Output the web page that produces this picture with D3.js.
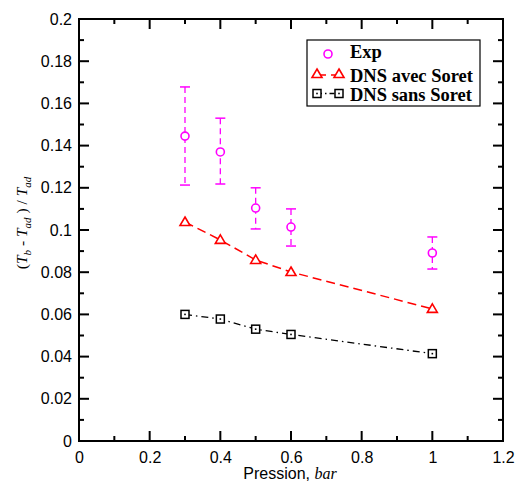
<!DOCTYPE html>
<html><head><meta charset="utf-8">
<script src="https://cdn.jsdelivr.net/npm/d3@7"></script>
<style>body{margin:0;background:#fff}</style>
</head><body>
<svg id="c" width="515" height="485"></svg>
<script>
const pressure = [0.3, 0.4, 0.5, 0.6, 1.0];
const expVal = [0.1445, 0.137, 0.1104, 0.1014, 0.0891];
const expHigh = [0.1678, 0.153, 0.120, 0.110, 0.0967];
const expLow = [0.1213, 0.1218, 0.1005, 0.0924, 0.0815];
const dnsAvec = [0.1038, 0.0953, 0.0858, 0.0801, 0.0626];
const dnsSans = [0.0600, 0.0578, 0.0530, 0.0505, 0.0414];
const xTicks = [0, 0.2, 0.4, 0.6, 0.8, 1, 1.2];
const xMinorTicks = [0.1, 0.3, 0.5, 0.7, 0.9, 1.1];
const yTicks = [0, 0.02, 0.04, 0.06, 0.08, 0.1, 0.12, 0.14, 0.16, 0.18, 0.2];
const yMinorTicks = [0.01, 0.03, 0.05, 0.07, 0.09, 0.11, 0.13, 0.15, 0.17, 0.19];
const legendLabels = ["Exp", "DNS avec Soret", "DNS sans Soret"];

const svg = d3.select("#c");
const L = 79, R = 503, T = 19, B = 441;
const x = d3.scaleLinear().domain([0, 1.2]).range([L, R]);
const y = d3.scaleLinear().domain([0, 0.2]).range([B, T]);
const fmt = v => v === 0 ? "0" : String(+v.toFixed(2));
const tickFont = "'Liberation Sans', Arial, sans-serif";
const serif = "'Liberation Serif', 'Times New Roman', serif";

// tick labels via d3 axes
const xa = svg.append("g").attr("transform", `translate(0,${B})`)
  .call(d3.axisBottom(x).tickValues(xTicks).tickFormat(fmt).tickSize(0).tickPadding(11));
xa.select(".domain").remove();
xa.selectAll("text").attr("font-family", tickFont).attr("font-size", 16).attr("fill", "#000");
const ya = svg.append("g").attr("transform", `translate(${L},0)`)
  .call(d3.axisLeft(y).tickValues(yTicks).tickFormat(fmt).tickSize(0).tickPadding(7));
ya.select(".domain").remove();
ya.selectAll("text").attr("font-family", tickFont).attr("font-size", 16).attr("fill", "#000");

// x label
const xl = svg.append("text").attr("x", 290).attr("y", 479).attr("text-anchor", "middle")
  .attr("font-family", tickFont).attr("font-size", 16);
xl.append("tspan").text("Pression, ");
xl.append("tspan").attr("font-family", serif).attr("font-style", "italic").text("bar");

// y label
const yl = svg.append("text").attr("transform", "translate(27,223) rotate(-90)").attr("text-anchor", "middle")
  .attr("font-family", serif).attr("font-size", 15.5);
yl.append("tspan").text("(");
yl.append("tspan").attr("font-style", "italic").text("T");
yl.append("tspan").attr("font-style", "italic").attr("font-size", 11).attr("dy", 4).text("b");
yl.append("tspan").attr("dy", -4).text(" - ");
yl.append("tspan").attr("font-style", "italic").text("T");
yl.append("tspan").attr("font-style", "italic").attr("font-size", 11).attr("dy", 4).text("ad");
yl.append("tspan").attr("dy", -4).text(" ) / ");
yl.append("tspan").attr("font-style", "italic").text("T");
yl.append("tspan").attr("font-style", "italic").attr("font-size", 11).attr("dy", 4).text("ad");

const MAG = "#ff00ff", RED = "#ff0000";

// lines
const line = d3.line().x((v, i) => x(pressure[i])).y(v => y(v));
svg.append("path").datum(dnsAvec).attr("d", line).attr("fill", "none").attr("stroke", RED)
  .attr("stroke-width", 1.5).attr("stroke-dasharray", "9,5");
svg.append("path").datum(dnsSans).attr("d", line).attr("fill", "none").attr("stroke", "#000")
  .attr("stroke-width", 1.3).attr("stroke-dasharray", "7,4,1.5,4");

// error bars
pressure.forEach((p, i) => {
  const cx = x(p);
  svg.append("line").attr("x1", cx).attr("x2", cx).attr("y1", y(expHigh[i])).attr("y2", y(expLow[i]))
    .attr("stroke", MAG).attr("stroke-width", 1.3).attr("stroke-dasharray", "6,4");
  [expHigh[i], expLow[i]].forEach(v => {
    svg.append("line").attr("x1", cx - 5).attr("x2", cx + 5).attr("y1", y(v)).attr("y2", y(v))
      .attr("stroke", MAG).attr("stroke-width", 1.5);
  });
});

function circle(gp, cx, cy) {
  gp.append("circle").attr("cx", cx).attr("cy", cy).attr("r", 4).attr("fill", "#fff").attr("stroke", MAG).attr("stroke-width", 1.6);
}
function tri(gp, cx, cy) {
  const s = 5;
  gp.append("path").attr("d", `M${cx},${cy - s}L${cx + s},${cy + s * 0.7}L${cx - s},${cy + s * 0.7}Z`)
    .attr("fill", "#fff").attr("stroke", RED).attr("stroke-width", 1.6);
}
function sq(gp, cx, cy) {
  gp.append("rect").attr("x", cx - 4).attr("y", cy - 4).attr("width", 8).attr("height", 8)
    .attr("fill", "#fff").attr("stroke", "#000").attr("stroke-width", 1.5);
  gp.append("rect").attr("x", cx - 0.8).attr("y", cy - 0.8).attr("width", 1.6).attr("height", 1.6).attr("fill", "#000");
}
pressure.forEach((p, i) => {
  circle(svg, x(p), y(expVal[i]));
  tri(svg, x(p), y(dnsAvec[i]));
  sq(svg, x(p), y(dnsSans[i]));
});

svg.append("rect").attr("x", L).attr("y", T).attr("width", R - L).attr("height", B - T)
  .attr("fill", "none").attr("stroke", "#000").attr("stroke-width", 2);

// legend
svg.append("rect").attr("x", 307).attr("y", 40).attr("width", 173).attr("height", 66)
  .attr("fill", "#fff").attr("stroke", "#000").attr("stroke-width", 1.2);
const legY = [54, 74, 93.5];
const legBase = [58, 81.7, 100.7];
legendLabels.forEach((t, i) => {
  svg.append("text").attr("x", 350).attr("y", legBase[i]).text(t)
    .attr("font-family", serif).attr("font-weight", "bold").attr("font-size", 18.5);
});
circle(svg, 328, legY[0]);
svg.append("line").attr("x1", 317).attr("x2", 339).attr("y1", legY[1] + 1).attr("y2", legY[1] + 1).attr("stroke", RED).attr("stroke-width", 1.5).attr("stroke-dasharray", "9,5");
tri(svg, 317, legY[1]); tri(svg, 339, legY[1]);
svg.append("line").attr("x1", 317).attr("x2", 339).attr("y1", legY[2]).attr("y2", legY[2]).attr("stroke", "#000").attr("stroke-width", 1.3).attr("stroke-dasharray", "5,3,1.5,3");
sq(svg, 317, legY[2]); sq(svg, 339, legY[2]);

// frame ticks (major 10px, minor 5px) on all four sides, drawn last as individual lines
const tickSegs = [];
xTicks.forEach(v => { tickSegs.push([x(v), B, x(v), B - 10], [x(v), T, x(v), T + 10]); });
xMinorTicks.forEach(v => { tickSegs.push([x(v), B, x(v), B - 5], [x(v), T, x(v), T + 5]); });
yTicks.forEach(v => { tickSegs.push([L, y(v), L + 10, y(v)], [R, y(v), R - 10, y(v)]); });
yMinorTicks.forEach(v => { tickSegs.push([L, y(v), L + 5, y(v)], [R, y(v), R - 5, y(v)]); });
svg.append("g").selectAll("line").data(tickSegs).join("line")
  .attr("x1", s => s[0]).attr("y1", s => s[1]).attr("x2", s => s[2]).attr("y2", s => s[3])
  .attr("stroke", "#000").attr("stroke-width", 2);
</script>
</body></html>
